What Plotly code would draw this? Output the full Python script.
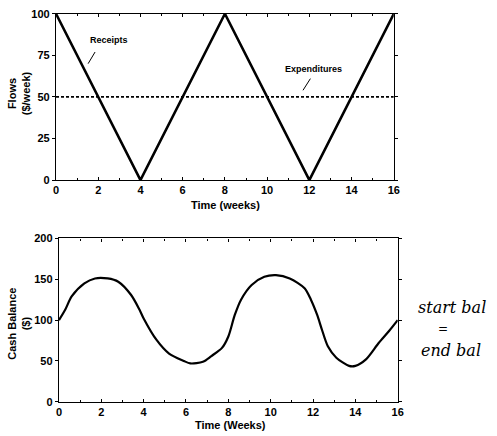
import plotly.graph_objects as go

# Top panel: flows ($/week)
t_receipts = [0, 4, 8, 12, 16]
receipts = [100, 0, 100, 0, 100]
t_exp = [0, 16]
expenditures = [50, 50]

# Bottom panel: cash balance ($)
t_bal = [0, 0.3, 0.6, 1.2, 1.7, 2.3, 2.8, 3.4, 3.8, 4.0, 4.6, 5.2, 5.9, 6.2,
         6.8, 7.2, 7.7, 8.0, 8.3, 8.6, 9.1, 9.7, 10.25, 10.9, 11.6, 11.9,
         12.2, 12.4, 12.7, 13.1, 13.7, 14.0, 14.5, 15.1, 15.6, 16]
balance = [100, 113, 129, 145, 151, 151, 147, 131, 113, 102, 76, 59, 50, 47,
           49, 56, 66, 80, 106, 125, 143, 153, 155, 151, 139, 125,
           106, 90, 68, 54, 44, 44, 52, 72, 87, 100]

x_ticks = [0, 2, 4, 6, 8, 10, 12, 14, 16]
flow_ticks = [0, 25, 50, 75, 100]
bal_ticks = [0, 50, 100, 150, 200]

W, H = 497, 436
FONT = "Liberation Sans"

fig = go.Figure()
fig.add_trace(go.Scatter(x=t_receipts, y=receipts, mode="lines",
                         line=dict(color="black", width=2.6),
                         xaxis="x", yaxis="y", showlegend=False))
fig.add_trace(go.Scatter(x=t_exp, y=expenditures, mode="lines",
                         line=dict(color="black", width=1.8, dash="3px,2px"),
                         xaxis="x", yaxis="y", showlegend=False))
fig.add_trace(go.Scatter(x=t_bal, y=balance, mode="lines",
                         line=dict(color="black", width=2.2, shape="spline", smoothing=0.8),
                         xaxis="x2", yaxis="y2", showlegend=False))

def px_x(p):
    return p / W

def px_y(p):
    return 1 - p / H

tickfont = dict(family=FONT, size=11, color="black", weight="bold")
axis_common = dict(showline=True, linecolor="black", linewidth=1.3, mirror="allticks",
                   ticklen=3, tickcolor="black", tickwidth=1.2,
                   showgrid=False, zeroline=False, tickfont=tickfont)
minor = dict(minor=dict(dtick=1, ticklen=2, ticks="inside", tickcolor="black", tickwidth=1))
top_dup = dict(range=[0, 16], side="top", showticklabels=False, showline=False,
               ticks="outside", ticklen=3, tickcolor="black", tickwidth=1.2,
               tickvals=x_ticks, showgrid=False, zeroline=False,
               minor=dict(dtick=1, ticklen=2, ticks="outside", tickcolor="black", tickwidth=1))

fig.update_layout(
    width=W, height=H, margin=dict(l=0, r=0, t=0, b=0),
    paper_bgcolor="white", plot_bgcolor="white",
    xaxis=dict(domain=[px_x(54), px_x(398)], range=[0, 16], tickvals=x_ticks,
               anchor="y", ticks="inside", **minor, **axis_common),
    yaxis=dict(domain=[px_y(179), px_y(8)], range=[0, 100], tickvals=flow_ticks,
               anchor="x", ticks="outside", **axis_common),
    xaxis2=dict(domain=[px_x(57), px_x(402)], range=[0, 16], tickvals=x_ticks,
                anchor="y2", ticks="inside", **minor, **axis_common),
    yaxis2=dict(domain=[px_y(407), px_y(239)], range=[0, 200], tickvals=bal_ticks,
                anchor="x2", ticks="outside", **axis_common),
    xaxis3=dict(overlaying="x", anchor="y", **top_dup),
    xaxis4=dict(overlaying="x2", anchor="y2", **top_dup),
)

title_font = dict(family=FONT, size=11, color="black", weight="bold")
fig.add_annotation(x=px_x(227), y=px_y(205), xref="paper", yref="paper", text="Time (weeks)",
                   showarrow=False, font=title_font, xanchor="center", yanchor="middle")
fig.add_annotation(x=px_x(232), y=px_y(431), xref="paper", yref="paper", text="Time (Weeks)",
                   showarrow=False, font=title_font, xanchor="center", yanchor="middle")
fig.add_annotation(x=px_x(16), y=px_y(90), xref="paper", yref="paper", text="Flows<br>($/week)",
                   showarrow=False, font=title_font, textangle=-90, xanchor="center", yanchor="middle")
fig.add_annotation(x=px_x(16), y=px_y(327), xref="paper", yref="paper", text="Cash Balance<br>($)",
                   showarrow=False, font=title_font, textangle=-90, xanchor="center", yanchor="middle")

lab_font = dict(family=FONT, size=9, color="black", weight="bold")
fig.add_annotation(x=2.5, y=84, xref="x", yref="y", text="Receipts", showarrow=False, font=lab_font)
fig.add_annotation(x=12.2, y=67, xref="x", yref="y", text="Expenditures", showarrow=False, font=lab_font)
fig.add_shape(type="line", xref="x", yref="y", x0=1.85, y0=77, x1=1.52, y1=70,
              line=dict(color="black", width=1))
fig.add_shape(type="line", xref="x", yref="y", x0=12.05, y0=61, x1=11.7, y1=54,
              line=dict(color="black", width=1))

hand = dict(family="DejaVu Serif", size=16, color="black", style="italic")
fig.add_annotation(x=px_x(457), y=px_y(310), xref="paper", yref="paper", text="start bal",
                   showarrow=False, font=hand, xanchor="center", yanchor="middle")
fig.add_annotation(x=px_x(448), y=px_y(332), xref="paper", yref="paper", text="=",
                   showarrow=False, font=dict(family="DejaVu Serif", size=12, color="black"),
                   xanchor="center", yanchor="middle")
fig.add_annotation(x=px_x(456), y=px_y(354), xref="paper", yref="paper", text="end bal",
                   showarrow=False, font=hand, xanchor="center", yanchor="middle")

fig.write_html("out.html")
